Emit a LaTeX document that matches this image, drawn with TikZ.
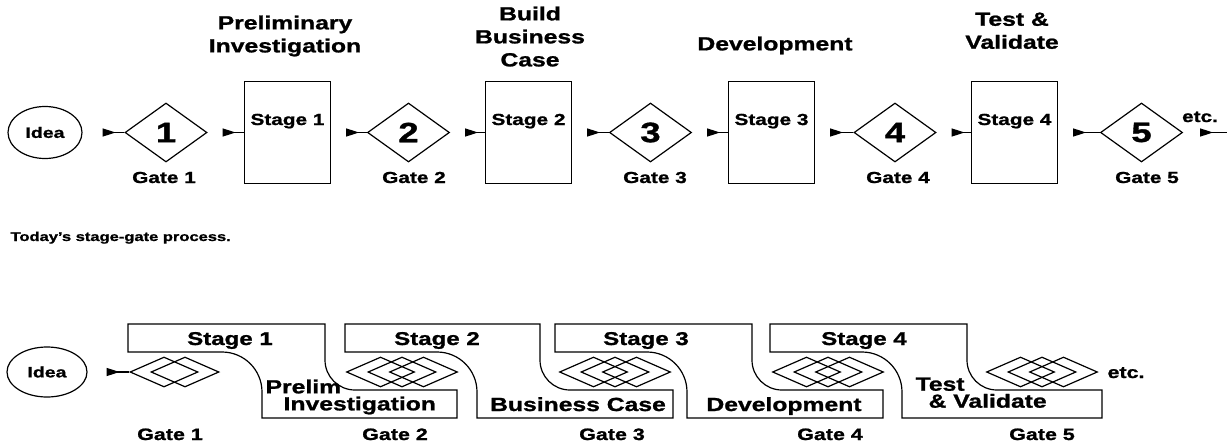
\documentclass[tikz,border=0pt]{standalone}
\usepackage{fontspec}
\setmainfont{Liberation Sans}[FakeStretch=1.3, BoldFeatures={FakeBold=1.2}]
\usetikzlibrary{shapes.geometric,arrows.meta}
\tikzset{
  hdr/.style={inner sep=0pt, align=center, font=\bfseries\fontsize{19}{23}\selectfont},
  stl/.style={inner sep=0pt, font=\bfseries\fontsize{16}{19}\selectfont},
  bst/.style={inner sep=0pt, font=\bfseries\fontsize{18.5}{20}\selectfont},
  bl/.style={inner sep=0pt, align=left, font=\bfseries\fontsize{19}{17}\selectfont},
  gl/.style={inner sep=0pt, font=\bfseries\fontsize{16.5}{19}\selectfont},
  small/.style={inner sep=0pt, font=\bfseries\fontsize{12.7}{15}\selectfont},
  dia/.style={draw, diamond, minimum width=82pt, minimum height=59pt, inner sep=0pt, font=\bfseries\fontsize{28}{30}\selectfont},
  sdia/.style={draw, diamond, minimum width=68pt, minimum height=30pt, inner sep=0pt},
  stagebox/.style={draw, minimum width=86pt, minimum height=102pt, inner sep=0pt},
  idea/.style={draw, ellipse, minimum width=74pt, minimum height=52pt, inner sep=0pt, font=\bfseries\fontsize{15}{18}\selectfont},
  conn/.style={{Triangle[reversed,length=13pt,width=8pt]}-, shorten <=15pt},
  band/.style={draw},
}
\begin{document}
\begin{tikzpicture}[x=1pt,y=-1pt,line width=1.2pt]
\fill[white] (0,0) rectangle (1227,442);
\useasboundingbox (0,0) rectangle (1227,442);

% ---------- top row ----------
\node[hdr, anchor=north] (h1) at (285,15) {Preliminary\\Investigation};
\node[hdr, anchor=north] (h2) at (530,6) {Build\\Business\\Case};
\node[hdr, anchor=north] (h3) at (775,36) {Development};
\node[hdr, anchor=north] (h4) at (1012,12) {Test \&\\Validate};

\node[idea] (i1) at (45,132.5) {Idea};
\node[dia] (d1) at (166,132.5) {1};
\node[stagebox] (s1) at (287.5,132.5) {};
\node[dia] (d2) at (408.5,132.5) {2};
\node[stagebox] (s2) at (528.5,132.5) {};
\node[dia] (d3) at (650.5,132.5) {3};
\node[stagebox] (s3) at (771.5,132.5) {};
\node[dia] (d4) at (895,132.5) {4};
\node[stagebox] (s4) at (1014.5,132.5) {};
\node[dia] (d5) at (1141.5,132.5) {5};
\coordinate (e1) at (1240,132.5);

\node[stl, anchor=base] (s1t) at (287.5,125) {Stage 1};
\node[stl, anchor=base] (s2t) at (528.5,125) {Stage 2};
\node[stl, anchor=base] (s3t) at (771.5,125) {Stage 3};
\node[stl, anchor=base] (s4t) at (1014.5,125) {Stage 4};

\node[stl, anchor=base] (g1t) at (164,183) {Gate 1};
\node[stl, anchor=base] (g2t) at (414,183) {Gate 2};
\node[stl, anchor=base] (g3t) at (655,183) {Gate 3};
\node[stl, anchor=base] (g4t) at (898,183) {Gate 4};
\node[stl, anchor=base] (g5t) at (1147,183) {Gate 5};
\node[stl, anchor=base] (etc1) at (1200,122) {etc.};

\draw[conn, shorten <=20pt] (i1.east) -- (d1.west);
\draw[conn] (d1.east) -- (s1.west);
\draw[conn] (s1.east) -- (d2.west);
\draw[conn] (d2.east) -- (s2.west);
\draw[conn] (s2.east) -- (d3.west);
\draw[conn] (d3.east) -- (s3.west);
\draw[conn] (s3.east) -- (d4.west);
\draw[conn] (d4.east) -- (s4.west);
\draw[conn] (s4.east) -- (d5.west);
\draw[conn, shorten <=17pt] (d5.east) -- (e1);

\node[small, anchor=base west] (cap) at (10,241) {Today's stage-gate process.};

% ---------- bottom row ----------
\draw[band] (128,324) -- (325,324) -- (325,360) .. controls (325,376.6) and (338.4,390) .. (355,390) -- (457,390) -- (457,418) -- (262,418) -- (262,392) .. controls (262,369.9) and (244.1,352) .. (222,352) -- (128,352) -- cycle;
\draw[band] (345,324) -- (540,324) -- (540,360) .. controls (540,376.6) and (553.4,390) .. (570,390) -- (673,390) -- (673,418) -- (477,418) -- (477,392) .. controls (477,369.9) and (459.1,352) .. (437,352) -- (345,352) -- cycle;
\draw[band] (555,324) -- (752,324) -- (752,360) .. controls (752,376.6) and (765.4,390) .. (782,390) -- (883,390) -- (883,418) -- (687,418) -- (687,392) .. controls (687,369.9) and (669.1,352) .. (647,352) -- (555,352) -- cycle;
\draw[band] (770,324) -- (967,324) -- (967,360) .. controls (967,376.6) and (980.4,390) .. (997,390) -- (1102,390) -- (1102,418) -- (902,418) -- (902,392) .. controls (902,369.9) and (884.1,352) .. (862,352) -- (770,352) -- cycle;

\node[idea, minimum width=80pt, minimum height=50pt] (i2) at (47,372) {Idea};

\node[sdia] (g1a) at (164,372) {};
\node[sdia] (g1b) at (185,372) {};
\node[sdia] (g2a) at (380.5,372) {};
\node[sdia] (g2b) at (402,372) {};
\node[sdia] (g2c) at (423.5,372) {};
\node[sdia] (g3a) at (593.5,372) {};
\node[sdia] (g3b) at (615,372) {};
\node[sdia] (g3c) at (636.5,372) {};
\node[sdia] (g4a) at (806.5,372) {};
\node[sdia] (g4b) at (828,372) {};
\node[sdia] (g4c) at (849.5,372) {};
\node[sdia] (g5a) at (1020.5,372) {};
\node[sdia] (g5b) at (1042,372) {};
\node[sdia] (g5c) at (1063.5,372) {};

\draw[conn, shorten <=19pt] (i2.east) -- (g1a.west);

\node[bst, anchor=base] (b1) at (230,345) {Stage 1};
\node[bst, anchor=base] (b2) at (437,345) {Stage 2};
\node[bst, anchor=base] (b3) at (646,345) {Stage 3};
\node[bst, anchor=base] (b4) at (864,345) {Stage 4};

\node[bl, anchor=north west] (n1) at (265,379) {Prelim\\\hspace*{18pt}Investigation};
\node[bl, anchor=base] (n2) at (578,411) {Business Case};
\node[bl, anchor=base] (n3) at (784,411) {Development};
\node[bl, anchor=north west] (n4) at (915,377) {Test\\\hspace*{13pt}\& Validate};

\node[gl, anchor=base] (bg1) at (170,440) {Gate 1};
\node[gl, anchor=base] (bg2) at (395,440) {Gate 2};
\node[gl, anchor=base] (bg3) at (612,440) {Gate 3};
\node[gl, anchor=base] (bg4) at (830,440) {Gate 4};
\node[gl, anchor=base] (bg5) at (1042,440) {Gate 5};
\node[gl, anchor=base] (etc2) at (1126,378) {etc.};
\end{tikzpicture}
\end{document}
